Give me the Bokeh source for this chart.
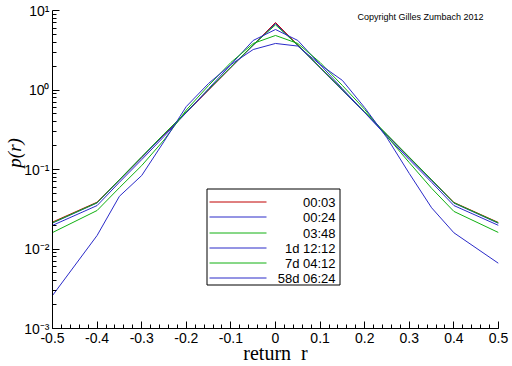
from bokeh.plotting import figure
from bokeh.models import Range1d, FixedTicker, CustomJSTickFormatter, Label
from bokeh.core.properties import value
from bokeh.embed import file_html
from bokeh.resources import INLINE

# ---------------- data ----------------
r = [-0.5, -0.4, -0.35, -0.3, -0.25, -0.2, -0.15, -0.1, -0.05, 0.0,
     0.05, 0.1, 0.15, 0.2, 0.25, 0.3, 0.35, 0.4, 0.5]

p_0003 = [0.0218, 0.0388, 0.0740, 0.142, 0.272, 0.52, 1.00, 1.92, 3.68, 7.06,
          3.68, 1.92, 1.00, 0.52, 0.272, 0.142, 0.0738, 0.0385, 0.0215]
p_0024 = [0.0212, 0.0380, 0.0735, 0.141, 0.274, 0.525, 1.01, 1.93, 3.65, 6.85,
          3.62, 1.90, 0.99, 0.52, 0.270, 0.140, 0.0730, 0.0378, 0.0210]
p_0348 = [0.0214, 0.0383, 0.0745, 0.145, 0.280, 0.53, 1.02, 1.95, 3.70, 6.60,
          3.66, 1.93, 1.01, 0.53, 0.276, 0.143, 0.0745, 0.0382, 0.0213]
p_1d = [0.0198, 0.0352, 0.0690, 0.133, 0.260, 0.52, 1.04, 2.09, 4.20, 5.77,
        4.20, 2.09, 1.04, 0.52, 0.260, 0.133, 0.0690, 0.0352, 0.0198]
p_7d = [0.0161, 0.0305, 0.0590, 0.112, 0.235, 0.56, 1.14, 2.22, 3.85, 4.85,
        3.85, 2.22, 1.14, 0.57, 0.260, 0.122, 0.0580, 0.0297, 0.0161]
p_58d = [0.0026, 0.0148, 0.0460, 0.084, 0.225, 0.62, 1.21, 2.09, 3.23, 3.85,
         3.57, 2.09, 1.32, 0.60, 0.250, 0.089, 0.0330, 0.0160, 0.0066]

labels = ["00:03", "00:24", "03:48", "1d 12:12", "7d 04:12", "58d 06:24"]
series = [p_0003, p_0024, p_0348, p_1d, p_7d, p_58d]
colors = ["#c00000", "#2a2ac8", "#10b010", "#2a2ac8", "#10b010", "#2a2ac8"]

x_ticks = [-0.5, -0.4, -0.3, -0.2, -0.1, 0.0, 0.1, 0.2, 0.3, 0.4, 0.5]
y_ticks = [1e-3, 1e-2, 1e-1, 1e0, 1e1]

# ---------------- figure ----------------
p = figure(width=512, height=366, output_backend="svg", toolbar_location=None,
           x_range=Range1d(-0.5, 0.5), y_range=Range1d(1e-3, 10),
           y_axis_type="log", min_border_left=52, min_border_right=14,
           min_border_top=10, min_border_bottom=38)
p.outline_line_color = None
p.xgrid.visible = False
p.ygrid.visible = False
p.background_fill_color = "white"
p.border_fill_color = "white"

x_minor = [round(-0.5 + 0.02 * i, 2) for i in range(51)]
y_minor = [k * 10.0 ** e for e in range(-3, 1) for k in range(2, 10)]
p.xaxis.ticker = FixedTicker(ticks=x_ticks, minor_ticks=x_minor)
p.yaxis.ticker = FixedTicker(ticks=y_ticks, minor_ticks=y_minor)
p.xaxis.formatter = CustomJSTickFormatter(code="""
    if (Math.abs(tick) < 1e-9) return '0';
    return tick.toFixed(1);
""")
p.yaxis.formatter = CustomJSTickFormatter(code="""
    const e = Math.round(Math.log10(tick));
    const sup = {'-':'\u207b','0':'\u2070','1':'\u00b9','2':'\u00b2','3':'\u00b3'};
    return '10' + String(e).split('').map(c => sup[c]).join('');
""")
for ax in (p.xaxis, p.yaxis):
    ax.axis_line_color = "black"
    ax.axis_line_width = 1
    ax.major_tick_in = 7
    ax.major_tick_out = 0
    ax.minor_tick_in = 4
    ax.minor_tick_out = 0
    ax.major_tick_line_color = "black"
    ax.minor_tick_line_color = "black"
    ax.major_label_text_font = "Liberation Sans"
    ax.major_label_text_font_size = "14px"
    ax.major_label_text_color = "black"
    ax.axis_label_text_font = "Liberation Serif"
    ax.axis_label_text_color = "black"
p.xaxis.major_label_standoff = 4
p.yaxis.major_label_standoff = 3

# axis titles
p.xaxis.axis_label = "return\u00a0\u00a0r"
p.xaxis.axis_label_text_font_size = "20px"
p.xaxis.axis_label_text_font_style = "normal"
p.xaxis.axis_label_standoff = -4
p.yaxis.axis_label = "\u00a0" * 7 + "p(r)"
p.yaxis.axis_label_text_font_size = "19px"
p.yaxis.axis_label_text_font_style = "italic"
p.yaxis.axis_label_standoff = -4

for ys, c in zip(series, colors):
    p.line(r, ys, line_color=c, line_width=1)


# ---------------- helpers: pixel -> data coordinates ----------------
def dx(px):
    return (px - 275.0) / 446.0


def dy(py):
    return 10 ** ((89.5 - py) / 79.5)


# legend (manual, labels right aligned as in the reference)
p.quad(left=[dx(206.5)], right=[dx(339.5)], top=[dy(188.5)], bottom=[dy(284.5)],
       fill_color="white", line_color="black", line_width=1)
row_px = [201.5, 216.5, 232.5, 247.5, 262.5, 277.5]
p.segment(x0=[dx(209)] * 6, x1=[dx(266)] * 6, y0=[dy(v) for v in row_px],
          y1=[dy(v) for v in row_px], line_color=colors, line_width=1)
p.text(x=[dx(335)] * 6, y=[dy(v) for v in row_px], text=labels,
       text_align="right", text_baseline="middle",
       text_font=value("Liberation Sans"), text_font_size="13px", text_color="black")

# copyright
p.add_layout(Label(x=dx(357), y=dy(16), text="Copyright Gilles Zumbach 2012",
                   text_font="Liberation Sans", text_font_size="9px",
                   text_baseline="middle", text_align="left", text_color="black"))

open("out.html", "w").write(file_html(p, INLINE))
